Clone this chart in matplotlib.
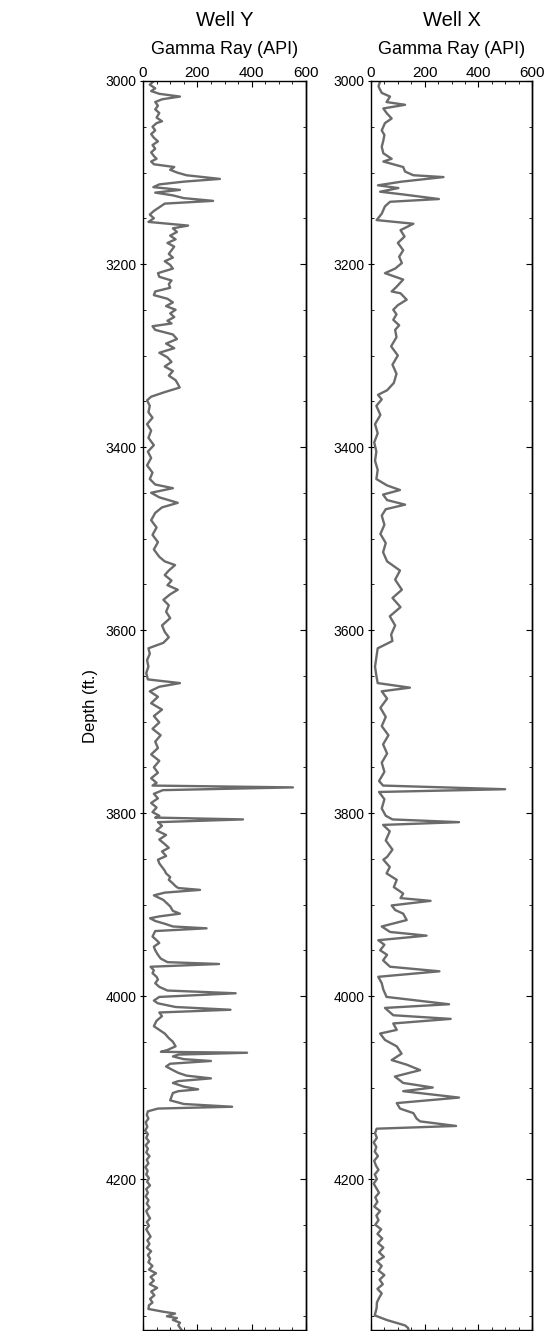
import matplotlib
matplotlib.use("Agg")
import matplotlib.pyplot as plt
from matplotlib.ticker import MultipleLocator

plt.rcParams['font.family'] = ['Liberation Sans', 'DejaVu Sans']

# Gamma ray log, Well Y (depth in ft, GR in API)
depth_y = [3000, 3004, 3008, 3011, 3014, 3017, 3020, 3023, 3027, 3031, 3035, 3040, 3044, 3046,
           3050, 3054, 3058, 3062, 3066, 3070, 3074, 3078, 3082, 3085, 3088, 3091, 3094, 3097,
           3100, 3103, 3107, 3110, 3113, 3116, 3119, 3122, 3125, 3128, 3131, 3134, 3138, 3142,
           3146, 3150, 3154, 3158, 3161, 3165, 3169, 3173, 3177, 3181, 3185, 3189, 3193, 3197,
           3201, 3205, 3210, 3214, 3218, 3222, 3226, 3230, 3234, 3238, 3242, 3246, 3250, 3254,
           3258, 3262, 3265, 3268, 3272, 3277, 3282, 3287, 3292, 3297, 3302, 3307, 3312, 3317,
           3322, 3327, 3331, 3335, 3340, 3345, 3349, 3355, 3362, 3368, 3375, 3382, 3390, 3398,
           3405, 3412, 3420, 3428, 3435, 3441, 3445, 3450, 3455, 3461, 3466, 3472, 3480, 3488,
           3496, 3504, 3512, 3520, 3525, 3529, 3535, 3540, 3546, 3551, 3556, 3561, 3567, 3573,
           3580, 3587, 3595, 3602, 3608, 3614, 3620, 3626, 3633, 3640, 3647, 3654, 3658, 3662,
           3667, 3673, 3680, 3687, 3694, 3701, 3708, 3715, 3722, 3729, 3736, 3743, 3750, 3756,
           3762, 3767, 3770, 3772, 3775, 3779, 3784, 3789, 3794, 3799, 3803, 3805, 3807, 3810,
           3814, 3819, 3824, 3829, 3834, 3838, 3842, 3847, 3851, 3855, 3859, 3863, 3866, 3870,
           3873, 3877, 3880, 3882, 3884, 3887, 3890, 3895, 3902, 3907, 3910, 3913, 3915, 3918,
           3921, 3924, 3926, 3929, 3932, 3935, 3939, 3942, 3946, 3950, 3955, 3959, 3963, 3965,
           3968, 3972, 3975, 3979, 3982, 3986, 3990, 3994, 3997, 4001, 4005, 4008, 4012, 4015,
           4018, 4022, 4027, 4033, 4037, 4041, 4046, 4050, 4055, 4059, 4061, 4062, 4064, 4066,
           4069, 4071, 4074, 4077, 4081, 4084, 4087, 4090, 4093, 4095, 4099, 4102, 4104, 4106,
           4110, 4114, 4118, 4121, 4123, 4126, 4130, 4134, 4138, 4143, 4147, 4151, 4155, 4159,
           4163, 4167, 4171, 4175, 4179, 4183, 4187, 4191, 4195, 4199, 4203, 4207, 4211, 4215,
           4219, 4223, 4227, 4231, 4235, 4239, 4243, 4247, 4251, 4255, 4259, 4263, 4267, 4271,
           4275, 4279, 4283, 4287, 4291, 4295, 4299, 4303, 4307, 4311, 4315, 4319, 4323, 4327,
           4331, 4335, 4338, 4342, 4345, 4347, 4350, 4352, 4354, 4357, 4360, 4365]
gr_y = [40, 25, 45, 30, 60, 136, 70, 45, 55, 45, 60, 50, 70, 50,
        35, 45, 30, 40, 55, 35, 45, 30, 40, 50, 30, 40, 115, 100,
        125, 160, 283, 150, 60, 38, 136, 45, 110, 150, 258, 80, 60, 40,
        25, 40, 20, 166, 110, 125, 100, 120, 90, 115, 105, 95, 110, 80,
        100, 110, 55, 60, 105, 95, 100, 45, 40, 90, 110, 85, 120, 100,
        115, 90, 105, 35, 45, 110, 125, 85, 115, 60, 90, 105, 80, 110,
        95, 120, 128, 135, 80, 30, 15, 25, 20, 35, 15, 30, 20, 40,
        18, 30, 15, 35, 25, 45, 110, 30, 60, 128, 70, 45, 30, 50,
        35, 55, 40, 60, 80, 118, 95, 80, 105, 90, 128, 100, 75, 95,
        85, 100, 70, 80, 95, 75, 20, 25, 15, 20, 12, 18, 136, 60,
        25, 55, 30, 70, 40, 60, 35, 65, 45, 55, 30, 60, 40, 55,
        30, 50, 35, 552, 73, 40, 55, 30, 50, 35, 60, 45, 368, 55,
        70, 50, 85, 60, 80, 95, 70, 85, 55, 60, 70, 80, 85, 100,
        95, 110, 120, 130, 210, 80, 40, 75, 100, 110, 136, 60, 26, 45,
        80, 110, 234, 45, 40, 35, 50, 60, 40, 45, 55, 65, 90, 280,
        28, 40, 35, 50, 55, 45, 60, 90, 341, 60, 40, 55, 120, 322,
        60, 70, 50, 40, 60, 80, 95, 110, 120, 90, 66, 383, 130, 110,
        150, 250, 100, 85, 110, 130, 160, 250, 130, 110, 150, 203, 130, 110,
        105, 100, 150, 328, 55, 18, 14, 20, 10, 16, 8, 18, 12, 22,
        10, 18, 12, 24, 14, 20, 9, 17, 12, 22, 15, 26, 12, 18,
        10, 20, 14, 24, 12, 18, 26, 14, 22, 12, 20, 28, 16, 24,
        14, 30, 18, 26, 20, 35, 22, 48, 28, 40, 25, 52, 30, 42,
        26, 35, 22, 20, 74, 118, 88, 125, 110, 136, 130, 142]

# Gamma ray log, Well X (depth in ft, GR in API)
depth_x = [3000, 3006, 3013, 3017, 3023, 3026, 3030, 3035, 3041, 3046, 3054, 3059, 3065, 3072,
           3079, 3085, 3088, 3094, 3099, 3103, 3105, 3110, 3114, 3117, 3121, 3124, 3129, 3132,
           3137, 3145, 3152, 3156, 3163, 3170, 3177, 3185, 3192, 3199, 3205, 3210, 3217, 3225,
           3230, 3232, 3239, 3245, 3250, 3255, 3261, 3267, 3272, 3280, 3290, 3300, 3310, 3320,
           3330, 3338, 3343, 3348, 3355, 3365, 3375, 3385, 3395, 3405, 3415, 3425, 3435, 3442,
           3447, 3452, 3458, 3463, 3468, 3475, 3485, 3495, 3505, 3515, 3525, 3535, 3545, 3556,
           3565, 3575, 3585, 3595, 3605, 3612, 3620, 3630, 3640, 3650, 3658, 3663, 3667, 3675,
           3685, 3695, 3705, 3715, 3725, 3735, 3745, 3755, 3765, 3770, 3774, 3777, 3785, 3795,
           3803, 3807, 3810, 3813, 3820, 3830, 3840, 3848, 3851, 3859, 3866, 3873, 3881, 3888,
           3893, 3896, 3901, 3906, 3910, 3917, 3924, 3930, 3934, 3939, 3944, 3950, 3955, 3961,
           3968, 3973, 3979, 3986, 3993, 4001, 4009, 4013, 4021, 4025, 4030, 4037, 4041, 4048,
           4055, 4063, 4070, 4075, 4081, 4088, 4095, 4100, 4104, 4111, 4117, 4123, 4128, 4134,
           4137, 4142, 4145, 4150, 4155, 4160, 4165, 4170, 4175, 4180, 4185, 4190, 4195, 4200,
           4205, 4210, 4215, 4220, 4225, 4230, 4235, 4240, 4245, 4250, 4255, 4260, 4265, 4270,
           4275, 4280, 4285, 4290, 4295, 4300, 4305, 4310, 4315, 4320, 4325, 4330, 4335, 4341,
           4349, 4354, 4360, 4363, 4365]
gr_x = [34, 28, 40, 71, 58, 127, 46, 58, 77, 52, 40, 50, 46, 40,
        46, 77, 46, 120, 127, 158, 270, 114, 26, 102, 34, 120, 253, 71,
        52, 40, 21, 158, 110, 125, 100, 120, 105, 115, 90, 52, 120, 95,
        77, 110, 133, 100, 83, 95, 83, 105, 90, 95, 75, 100, 80, 95,
        85, 60, 26, 40, 20, 35, 15, 25, 12, 20, 15, 25, 20, 60,
        108, 45, 60, 127, 55, 40, 50, 35, 55, 45, 60, 108, 90, 115,
        80, 110, 70, 90, 75, 80, 25, 20, 15, 20, 25, 145, 40, 60,
        35, 55, 40, 65, 45, 60, 40, 50, 30, 45, 500, 30, 50, 40,
        55, 80, 328, 45, 70, 55, 80, 60, 46, 70, 58, 96, 85, 120,
        110, 222, 77, 90, 120, 133, 40, 71, 207, 27, 50, 34, 60, 45,
        71, 255, 27, 40, 46, 58, 291, 52, 83, 297, 83, 96, 34, 52,
        96, 114, 77, 133, 183, 89, 120, 230, 120, 328, 96, 108, 158, 170,
        183, 317, 21, 15, 22, 10, 20, 14, 26, 12, 18, 28, 14, 22,
        10, 20, 30, 16, 24, 12, 34, 20, 28, 16, 38, 24, 42, 26,
        46, 30, 48, 22, 40, 28, 50, 32, 44, 24, 40, 30, 22, 21,
        14, 58, 127, 139, 139]

wells = [("Well Y", depth_y, gr_y), ("Well X", depth_x, gr_x)]

W, H = 547, 1331
fig = plt.figure(figsize=(W / 100, H / 100), dpi=100)

# axes boxes in pixels: (left, right)
boxes = [(143, 306), (371, 532)]
top_px, bot_px = 81, 1330
line_color = "#6b6b6b"

for (name, d, g), (x0, x1) in zip(wells, boxes):
    ax = fig.add_axes([x0 / W, 1 - bot_px / H, (x1 - x0) / W, (bot_px - top_px) / H])
    ax.plot(g, d, color=line_color, lw=1.7, solid_joinstyle="round")
    ax.set_xlim(0, 600)
    ax.set_ylim(4365, 3000)

    ax.xaxis.set_major_locator(MultipleLocator(200))
    ax.xaxis.set_minor_locator(MultipleLocator(50))
    ax.yaxis.set_major_locator(MultipleLocator(200))
    ax.yaxis.set_minor_locator(MultipleLocator(50))

    ax.tick_params(axis="x", which="both", top=True, bottom=True, labeltop=True,
                   labelbottom=False, direction="in", labelsize=11, pad=1)
    ax.tick_params(axis="x", which="major", length=4, width=0.8)
    ax.tick_params(axis="x", which="minor", length=2.5, width=0.6)
    ax.tick_params(axis="y", which="major", direction="inout", length=5, width=0.8,
                   labelsize=10, pad=2)
    ax.tick_params(axis="y", which="minor", direction="in", length=2.5, width=0.6)

    sec = ax.secondary_yaxis("right")
    sec.yaxis.set_major_locator(MultipleLocator(200))
    sec.yaxis.set_minor_locator(MultipleLocator(50))
    sec.tick_params(which="both", direction="in", labelright=False)
    sec.tick_params(which="major", length=4, width=0.8)
    sec.tick_params(which="minor", length=2.5, width=0.6)

    for s in ax.spines.values():
        s.set_linewidth(1.0)
    sec.spines["right"].set_linewidth(1.0)

    cx = (x0 + x1) / 2 / W
    fig.text(cx, 1 - 20 / H, name, ha="center", va="center", fontsize=14.5)
    fig.text(cx, 1 - 49 / H, "Gamma Ray (API)", ha="center", va="center", fontsize=13)

fig.text(90 / W, 1 - 706 / H, "Depth (ft.)", rotation=90, ha="center", va="center",
         fontsize=12)

fig.savefig("out.png", dpi=100)
